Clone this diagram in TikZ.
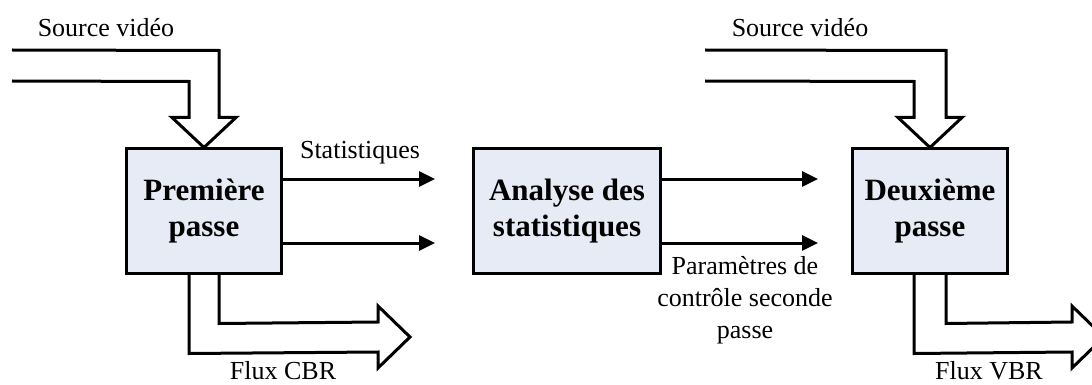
\documentclass[tikz,border=0pt]{standalone}
\usepackage{fontspec}
\setmainfont{Liberation Serif}
\usetikzlibrary{calc,arrows.meta}
\definecolor{boxfill}{HTML}{E7EBF6}
\tikzset{
  stage/.style={draw=black, line width=3pt, fill=boxfill, align=center,
    font=\fontsize{31}{36}\selectfont\bfseries, inner sep=0pt,
    minimum height=124pt},
  lbl/.style={font=\fontsize{26}{32}\selectfont, align=center, inner sep=0pt},
  arr/.style={line width=3pt, -{Triangle[length=16pt,width=15pt]}},
  flow/.style={line width=3pt, line join=miter},
}
\begin{document}
\begin{tikzpicture}[x=1pt,y=-1pt]
\useasboundingbox (0,0) rectangle (1092,385);
\clip (0,0) rectangle (1092,385);

% processing stages
\node[stage, minimum width=155pt] (b1) at (204,211) {Première\\passe};
\node[stage, minimum width=187pt] (b2) at (567,211) {Analyse des\\statistiques};
\node[stage, minimum width=155pt] (b3) at (930,211) {Deuxième\\passe};

% labels
\node[lbl] (src1) at (106,28) {Source vidéo};
\node[lbl] (src2) at (800,28) {Source vidéo};
\node[lbl] (stat) at (360,153) {Statistiques};
\node[lbl] (cbr) at (283,371) {Flux CBR};
\node[lbl] (vbr) at (989,371) {Flux VBR};
\node[lbl] (par) at (745,300) {Paramètres de\\contrôle seconde\\passe};

% free ends of the thin arrows
\coordinate (s1) at (435,179);
\coordinate (s2) at (435,243);
\coordinate (p1) at (818,179);
\coordinate (p2) at (818,243);

\draw[arr] ($(b1.east)+(0,-32)$) -- (s1);
\draw[arr] ($(b1.east)+(0,32)$) -- (s2);
\draw[arr] ($(b2.east)+(0,-32)$) -- (p1);
\draw[arr] ($(b2.east)+(0,32)$) -- (p2);

% hollow input arrow, first pass
\draw[flow] (12,50) -- ($(b1.north)+(15,-97)$) -- ($(b1.north)+(15,-30)$)
  -- ($(b1.north)+(32,-30)$) -- (b1.north) -- ($(b1.north)+(-32,-30)$)
  -- ($(b1.north)+(-15,-30)$) -- ($(b1.north)+(-15,-66)$) -- (12,81);

% hollow output arrow, first pass
\draw[flow] ($(b1.south)+(-15,0)$) -- ($(b1.south)+(-15,79)$) -- (378,352)
  -- (378,368) -- (410,337) -- (378,306) -- (378,322)
  -- ($(b1.south)+(15,49)$) -- ($(b1.south)+(15,0)$);

% hollow input arrow, second pass
\draw[flow] (705,50) -- ($(b3.north)+(16,-97)$) -- ($(b3.north)+(16,-30)$)
  -- ($(b3.north)+(32,-30)$) -- (b3.north) -- ($(b3.north)+(-32,-30)$)
  -- ($(b3.north)+(-16,-30)$) -- ($(b3.north)+(-16,-66)$) -- (705,81);

% hollow output arrow, second pass
\draw[flow] ($(b3.south)+(-16,0)$) -- ($(b3.south)+(-16,79)$) -- (1072,352)
  -- (1072,368) -- (1104,337) -- (1072,306) -- (1072,322)
  -- ($(b3.south)+(16,49)$) -- ($(b3.south)+(16,0)$);
\end{tikzpicture}
\end{document}
